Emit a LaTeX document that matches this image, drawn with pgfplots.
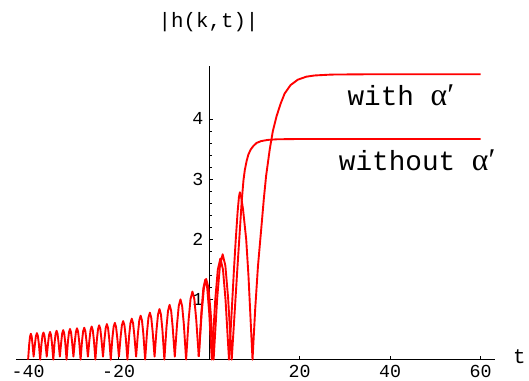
\documentclass[border=0pt]{standalone}
\usepackage{fontspec}
\setmainfont{Liberation Mono}
\newfontfamily\greekfont{Liberation Serif}
\usepackage{pgfplots}
\pgfplotsset{compat=1.18}
\usepackage{pgfplotstable}

% |h(k,t)| for t<0, both curves coincide here
\pgfplotstableread{
t h
-40.00 0
-39.756 0.253
-39.573 0.383
-39.39 0.43
-39.207 0.383
-39.024 0.253
-38.78 0.05
-38.49 0.259
-38.2725 0.392
-38.055 0.44
-37.8375 0.392
-37.62 0.259
-37.33 0
-37.04 0.265
-36.8225 0.401
-36.605 0.45
-36.3875 0.401
-36.17 0.265
-35.88 0.05
-35.59 0.270
-35.3725 0.410
-35.155 0.46
-34.9375 0.410
-34.72 0.270
-34.43 0
-34.14 0.282
-33.9225 0.428
-33.705 0.48
-33.4875 0.428
-33.27 0.282
-32.98 0.05
-32.684 0.288
-32.462 0.437
-32.24 0.49
-32.018 0.437
-31.796 0.288
-31.50 0
-31.196 0.300
-30.968 0.454
-30.74 0.51
-30.512 0.454
-30.284 0.300
-29.98 0.05
-29.664 0.306
-29.427 0.463
-29.19 0.52
-28.953 0.463
-28.716 0.306
-28.40 0
-28.076 0.312
-27.833 0.472
-27.59 0.53
-27.347 0.472
-27.104 0.312
-26.78 0.05
-26.45 0.323
-26.2025 0.490
-25.955 0.55
-25.7075 0.490
-25.46 0.323
-25.13 0
-24.794 0.335
-24.542 0.508
-24.29 0.57
-24.038 0.508
-23.786 0.335
-23.45 0.05
-23.106 0.347
-22.848 0.526
-22.59 0.59
-22.332 0.526
-22.074 0.347
-21.73 0
-21.37 0.359
-21.10 0.544
-20.83 0.61
-20.56 0.544
-20.29 0.359
-19.93 0.05
-19.554 0.376
-19.272 0.570
-18.99 0.64
-18.708 0.570
-18.426 0.376
-18.05 0
-17.666 0.400
-17.378 0.606
-17.09 0.68
-16.802 0.606
-16.514 0.400
-16.13 0.05
-15.73 0.429
-15.43 0.650
-15.13 0.73
-14.83 0.650
-14.53 0.429
-14.13 0
-13.714 0.459
-13.402 0.695
-13.09 0.78
-12.778 0.695
-12.466 0.459
-12.05 0.05
-11.616 0.494
-11.2905 0.748
-10.965 0.84
-10.6395 0.748
-10.314 0.494
-9.88 0
-9.42 0.535
-9.075 0.811
-8.73 0.91
-8.385 0.811
-8.04 0.535
-7.58 0.05
-7.08 0.588
-6.705 0.891
-6.33 1.0
-5.955 0.891
-5.58 0.588
-5.08 0
-4.52 0.664
-4.10 1.007
-3.68 1.13
-3.26 1.007
-2.84 0.664
-2.28 0.05
}\common

% without alpha'
\pgfplotstableread{
t h
-2.28 0.05
-1.624 0.788
-1.132 1.194
-0.64 1.34
-0.148 1.194
0.344 0.788
1.0 0
1.8 1.029
2.4 1.559
3.0 1.75
3.6 1.559
4.2 1.029
5.0 0
5.6 0.72
6.2 1.45
6.8 2.15
7.2 2.62
7.6 2.98
7.9 3.15
8.3 3.30
8.7 3.41
9.2 3.49
9.8 3.55
10.5 3.60
11.5 3.63
13 3.65
15 3.66
20 3.665
60 3.665
}\without

% with alpha'
\pgfplotstableread{
t h
-2.28 0.05
-1.704 0.782
-1.272 1.185
-0.84 1.33
-0.408 1.185
0.024 0.782
0.6 0
1.36 0.988
1.93 1.497
2.5 1.68
3.07 1.497
3.64 0.988
4.4 0
5.0 0.8
5.5 1.5
5.9 2.0
6.3 2.45
6.6 2.7
6.8 2.78
7.05 2.72
7.5 2.5
8.2 2.0
8.7 1.4
9.15 0.7
9.6 0
10.2 0.85
10.8 1.55
11.5 2.15
12.1 2.67
12.6 3.05
13.4 3.49
14.1 3.8
14.9 4.04
15.8 4.25
16.7 4.42
18 4.56
19.6 4.65
21.5 4.70
23.3 4.72
27 4.735
35 4.74
60 4.74
}\withalpha

\begin{document}
\begin{tikzpicture}
\begin{axis}[
  x=4.555bp, y=60.6bp,
  xmin=-42.7, xmax=63.1, ymin=0, ymax=4.87,
  axis lines=middle,
  axis line style={black, line width=0.8bp, -},
  xtick={-40,-20,20,40,60},
  ytick={1,2,3,4},
  minor x tick num=3, minor y tick num=4,
  tick align=inside,
  major tick length=4bp, minor tick length=2.5bp,
  every tick/.style={black, line width=0.6bp},
  /pgf/number format/assume math mode=true,
  ticklabel style={font=\fontsize{18.5}{18.5}\selectfont, inner sep=0pt},
  xticklabel style={anchor=north, yshift=-5bp},
  yticklabel style={anchor=east, xshift=-5.5bp},
  clip=false,
]
  % page size of the reference
  \path (axis cs:-46.21,-0.3465) rectangle (axis cs:69.92,5.974);

  \addplot[red, line width=1.9bp, line join=round, mark=none] table {\common};
  \addplot[red, line width=1.9bp, line join=round, mark=none] table {\without};
  \addplot[red, line width=1.9bp, line join=round, mark=none] table {\withalpha};

  \node[anchor=base, font=\fontsize{21}{21}\selectfont] at (axis cs:-0.11,5.51) {|h(k,t)|};
  \node[anchor=base, font=\fontsize{21}{21}\selectfont] at (axis cs:68.6,-0.066) {t};
  \node[anchor=base, font=\fontsize{28}{28}\selectfont] at (axis cs:42.4,4.22) {with {\greekfont\fontsize{32}{32}\selectfont α′}};
  \node[anchor=base, font=\fontsize{28}{28}\selectfont] at (axis cs:46.0,3.14) {without {\greekfont\fontsize{32}{32}\selectfont α′}};
\end{axis}
\end{tikzpicture}
\end{document}
